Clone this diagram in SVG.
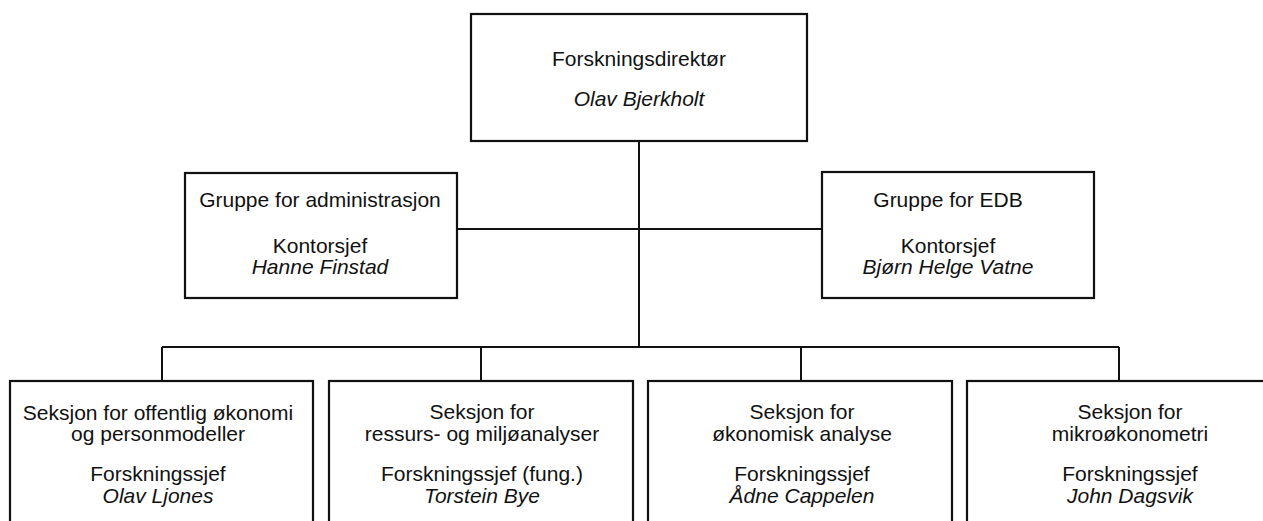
<svg xmlns="http://www.w3.org/2000/svg" width="1263" height="521" viewBox="0 0 1263 521">
<style>
.box{fill:#fff;stroke:#111;stroke-width:2.2}
.ln{stroke:#111;stroke-width:2;fill:none}
text{font-family:"Liberation Sans",Arial,sans-serif;font-size:21px;fill:#111;text-anchor:middle}
.it{font-style:italic}
</style>
<rect width="1263" height="521" fill="#fff"/>
<g id="connectors">
<line class="ln" x1="639" y1="141" x2="639" y2="348"/>
<line class="ln" x1="457" y1="229" x2="822" y2="229"/>
<line class="ln" x1="162" y1="347" x2="1119" y2="347"/>
<line class="ln" x1="162" y1="347" x2="162" y2="381"/>
<line class="ln" x1="481" y1="347" x2="481" y2="381"/>
<line class="ln" x1="801" y1="347" x2="801" y2="381"/>
<line class="ln" x1="1119" y1="347" x2="1119" y2="381"/>
</g>
<g id="n-direktor">
<rect class="box" x="471" y="14" width="336" height="127"/>
<text x="639" y="66">Forskningsdirektør</text>
<text class="it" x="639" y="106">Olav Bjerkholt</text>
</g>
<g id="n-admin">
<rect class="box" x="185" y="173" width="272" height="125"/>
<text x="320" y="207">Gruppe for administrasjon</text>
<text x="320" y="253">Kontorsjef</text>
<text class="it" x="320" y="274">Hanne Finstad</text>
</g>
<g id="n-edb">
<rect class="box" x="822" y="172" width="272" height="126"/>
<text x="948" y="207">Gruppe for EDB</text>
<text x="948" y="253">Kontorsjef</text>
<text class="it" x="948" y="274">Bjørn Helge Vatne</text>
</g>
<g id="n-s1">
<rect class="box" x="10" y="381" width="303" height="160"/>
<text x="158" y="420">Seksjon for offentlig økonomi</text>
<text x="158" y="441">og personmodeller</text>
<text x="158" y="481">Forskningssjef</text>
<text class="it" x="158" y="503">Olav Ljones</text>
</g>
<g id="n-s2">
<rect class="box" x="329" y="381" width="304" height="160"/>
<text x="482" y="419">Seksjon for</text>
<text x="482" y="441">ressurs- og miljøanalyser</text>
<text x="482" y="481">Forskningssjef (fung.)</text>
<text class="it" x="482" y="503">Torstein Bye</text>
</g>
<g id="n-s3">
<rect class="box" x="648" y="381" width="304" height="160"/>
<text x="802" y="419">Seksjon for</text>
<text x="802" y="441">økonomisk analyse</text>
<text x="802" y="481">Forskningssjef</text>
<text class="it" x="802" y="503">Ådne Cappelen</text>
</g>
<g id="n-s4">
<rect class="box" x="967" y="381" width="310" height="160"/>
<text x="1130" y="419">Seksjon for</text>
<text x="1130" y="441">mikroøkonometri</text>
<text x="1130" y="481">Forskningssjef</text>
<text class="it" x="1130" y="503">John Dagsvik</text>
</g>
</svg>
